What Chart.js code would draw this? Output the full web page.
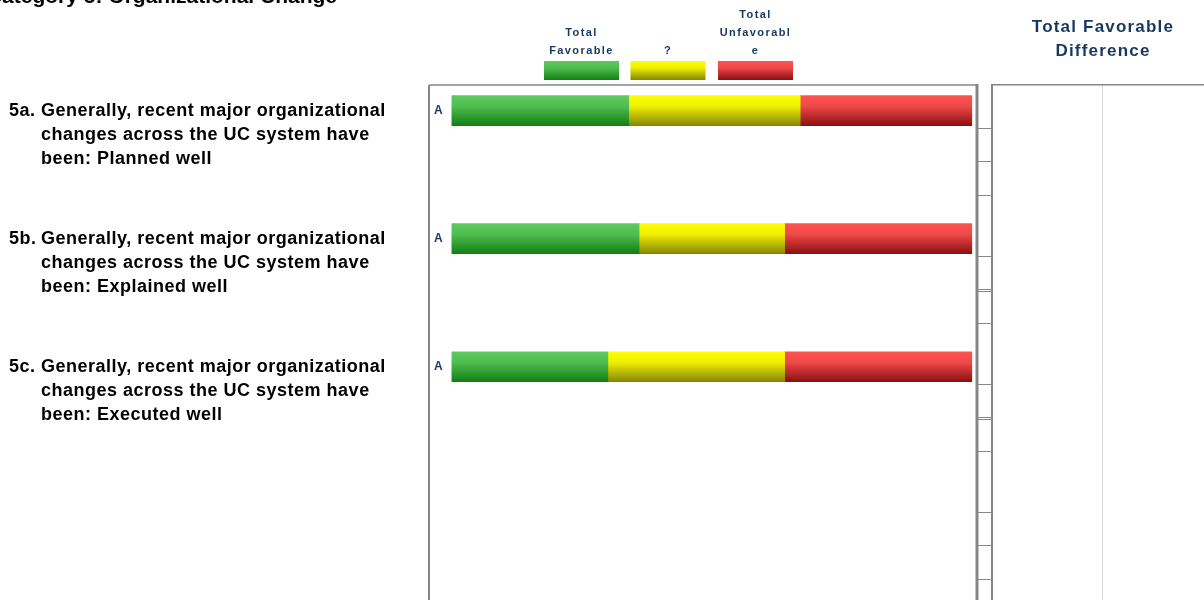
<!DOCTYPE html>
<html>
<head>
<meta charset="utf-8">
<script src="https://cdn.jsdelivr.net/npm/chart.js@4.4.1/dist/chart.umd.min.js"></script>
<style>
  html, body { margin: 0; padding: 0; width: 1204px; height: 600px; overflow: hidden; background: #ffffff; }
  #main { position: absolute; left: 0; top: 0; }
  #diff { position: absolute; left: 976px; top: 0; }
</style>
</head>
<body>
<canvas id="main" width="990" height="720"></canvas>
<canvas id="diff" width="250" height="720"></canvas>
<script>
// ---------------- data ----------------
const pageTitle = 'Category 5: Organizational Change';
const questionIds = ['5a.', '5b.', '5c.'];
const questionText = [
  ['Generally, recent major organizational', 'changes across the UC system have', 'been: Planned well'],
  ['Generally, recent major organizational', 'changes across the UC system have', 'been: Explained well'],
  ['Generally, recent major organizational', 'changes across the UC system have', 'been: Executed well']
];
const groupTags = ['A', 'A', 'A'];
const seriesNames = ['Total Favorable', '?', 'Total Unfavorable'];
const legendLines = [['Total', 'Favorable'], ['?'], ['Total', 'Unfavorabl', 'e']];
const favorable = [34, 36, 30];
const neutral = [33, 28, 34];
const unfavorable = [33, 36, 36];
const diffTitle = ['Total Favorable', 'Difference'];
const diffTickValues = [0.136, 0.4, 0.66, 1.136, 1.395, 1.41, 1.66, 2.136, 2.395, 2.41, 2.66, 3.136, 3.395, 3.66, 4.136, 4.4];

// ---------------- styles ----------------
const NAVY = '#17375e';
const FRAME = '#868686';
const FONT = '"Liberation Sans", Arial, sans-serif';
const gradStops = [
  [[0, '#5ccb5c'], [0.35, '#4fbd4f'], [1, '#117f11']],
  [[0, '#ffff00'], [0.35, '#efef00'], [1, '#878700']],
  [[0, '#ff5252'], [0.35, '#ef4949'], [1, '#891010']]
];
const solid = ['#3fa83f', '#d8d800', '#d03030'];

function makeGradient(ctx, top, bottom, stops) {
  const g = ctx.createLinearGradient(0, top, 0, bottom);
  stops.forEach(s => g.addColorStop(s[0], s[1]));
  return g;
}

function barFill(seriesIndex) {
  return function (c) {
    const chart = c.chart;
    if (c.dataIndex === undefined || !chart.chartArea || !chart.scales.y) return solid[seriesIndex];
    const yc = chart.scales.y.getPixelForValue(c.dataIndex);
    return makeGradient(chart.ctx, yc - 15, yc + 15, gradStops[seriesIndex]);
  };
}

const seriesValues = [favorable, neutral, unfavorable];

const mainDatasets = seriesNames.map((name, s) => ({
  label: name,
  data: seriesValues[s].map((v, i) => ({ x: v, y: i })),
  backgroundColor: barFill(s),
  borderWidth: 0,
  barThickness: 30
}));

// frame, question labels, legend and page title
const mainDecor = {
  id: 'mainDecor',
  afterDraw(chart) {
    const ctx = chart.ctx;
    const a = chart.chartArea;
    const y = chart.scales.y;
    ctx.save();
    // frame
    ctx.strokeStyle = FRAME;
    ctx.lineWidth = 2;
    ctx.beginPath(); ctx.moveTo(a.left, a.top); ctx.lineTo(a.left, a.bottom + 50); ctx.stroke();
    ctx.lineWidth = 1.5;
    ctx.beginPath(); ctx.moveTo(a.left, a.top); ctx.lineTo(a.right, a.top); ctx.stroke();
    ctx.lineWidth = 3;
    ctx.beginPath(); ctx.moveTo(a.right, a.top - 1); ctx.lineTo(a.right, a.bottom + 50); ctx.stroke();

    // question labels
    ctx.fillStyle = '#000000';
    ctx.font = 'bold 18px ' + FONT;
    ctx.textBaseline = 'middle';
    ctx.textAlign = 'left';
    ctx.letterSpacing = '0.5px';
    questionIds.forEach((id, i) => {
      const yc = y.getPixelForValue(i);
      ctx.fillText(id, 9, yc);
      questionText[i].forEach((line, k) => ctx.fillText(line, 41, yc + k * 24));
    });

    // page title (cut off at the top)
    ctx.letterSpacing = '0px';
    ctx.font = 'bold 21px ' + FONT;
    ctx.textBaseline = 'alphabetic';
    ctx.textAlign = 'right';
    ctx.fillText(pageTitle, 337, 3);

    // legend
    const centers = [581.5, 668, 755.5];
    const swTop = 61, swH = 19, swW = 75;
    ctx.font = 'bold 11px ' + FONT;
    ctx.textAlign = 'center';
    ctx.textBaseline = 'middle';
    ctx.letterSpacing = '1.4px';
    chart.data.datasets.forEach((ds, s) => {
      const cx = centers[s];
      ctx.fillStyle = makeGradient(ctx, swTop, swTop + swH, gradStops[s]);
      ctx.fillRect(cx - swW / 2, swTop, swW, swH);
      ctx.fillStyle = NAVY;
      const lines = legendLines[s];
      lines.forEach((ln, k) => {
        ctx.fillText(ln, cx, 51 - (lines.length - 1 - k) * 18);
      });
    });
    ctx.letterSpacing = '0px';
    ctx.restore();
  }
};

new Chart(document.getElementById('main'), {
  type: 'bar',
  data: { datasets: mainDatasets },
  options: {
    responsive: false,
    animation: false,
    indexAxis: 'y',
    layout: { padding: { left: 429, top: 85, right: 13, bottom: 33 } },
    plugins: { legend: { display: false }, tooltip: { enabled: false }, title: { display: false } },
    scales: {
      x: {
        type: 'linear', stacked: true, min: -4.4, max: 101, display: false, offset: false
      },
      y: {
        type: 'linear', stacked: true, reverse: true, min: -0.2, max: 4.5, offset: false,
        afterBuildTicks: s => { s.ticks = groupTags.map((t, i) => ({ value: i })); },
        afterFit: s => { s.width = 0; },
        grid: { display: false, drawTicks: false, offset: false },
        border: { display: false },
        ticks: {
          mirror: true, padding: 5, color: NAVY,
          font: { family: FONT, size: 12, weight: 'bold' },
          callback: (v, i) => groupTags[i]
        }
      }
    }
  },
  plugins: [mainDecor]
});

// ---------------- right panel ----------------
const diffDecor = {
  id: 'diffDecor',
  afterDraw(chart) {
    const ctx = chart.ctx;
    ctx.save();
    ctx.fillStyle = NAVY;
    ctx.font = 'bold 17px ' + FONT;
    ctx.textAlign = 'center';
    ctx.textBaseline = 'middle';
    ctx.letterSpacing = '1.2px';
    const cx = chart.scales.x.getPixelForValue(0) + 1;
    diffTitle.forEach((ln, k) => ctx.fillText(ln, cx, 27 + k * 24));
    ctx.letterSpacing = '0px';
    ctx.restore();
  }
};

new Chart(document.getElementById('diff'), {
  type: 'bar',
  data: { datasets: [{ label: diffTitle.join(' '), data: [], backgroundColor: NAVY }] },
  options: {
    responsive: false,
    animation: false,
    indexAxis: 'y',
    layout: { padding: { left: 0, top: 85, right: 14, bottom: 33 } },
    plugins: { legend: { display: false }, tooltip: { enabled: false }, title: { display: false } },
    scales: {
      x: {
        type: 'linear', position: 'top', min: -1, max: 1, offset: false,
        afterBuildTicks: s => { s.ticks = [{ value: 0 }]; },
        grid: { color: '#d9d9d9', lineWidth: 1, drawTicks: false, offset: false },
        border: { display: true, color: FRAME, width: 1.5 },
        ticks: { display: false }
      },
      y: {
        type: 'linear', position: 'left', reverse: true, min: -0.2, max: 4.5, offset: false,
        afterBuildTicks: s => { s.ticks = diffTickValues.map(v => ({ value: v })); },
        afterFit: s => { s.width = 16; },
        grid: { display: true, drawOnChartArea: false, drawTicks: true, tickLength: 15, color: FRAME, lineWidth: 1, offset: false },
        border: { display: true, color: FRAME, width: 2 },
        ticks: { display: false }
      }
    }
  },
  plugins: [diffDecor]
});
</script>
</body>
</html>
